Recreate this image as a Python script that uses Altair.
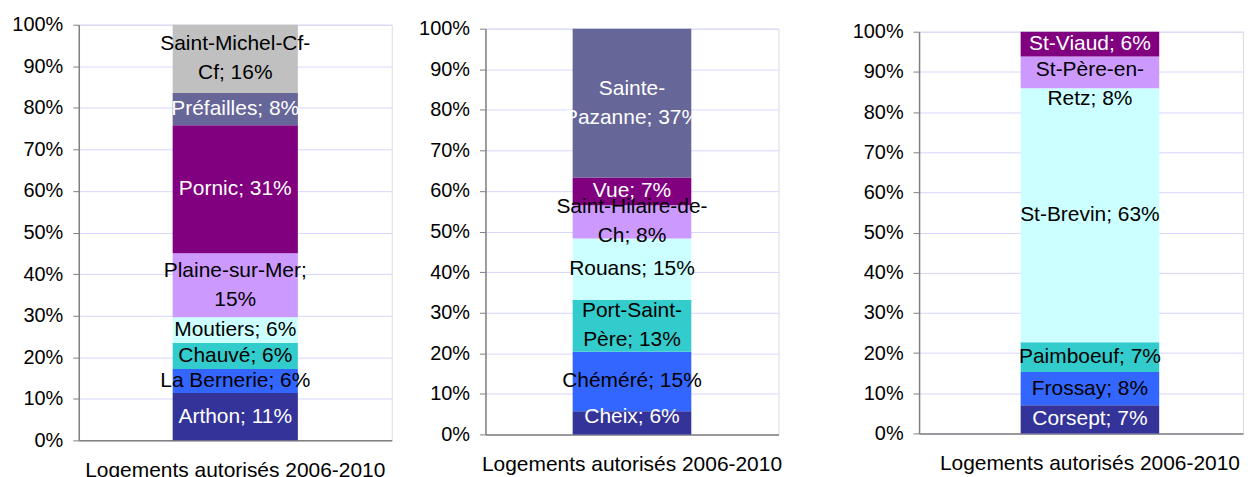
import altair as alt
import pandas as pd

# ---------------- data ----------------
cat = "Logements autorisés 2006-2010"

p1_names = ["Arthon", "La Bernerie", "Chauvé", "Moutiers", "Plaine-sur-Mer", "Pornic", "Préfailles", "Saint-Michel-Cf-\nCf"]
p1_values = [11.4, 5.8, 6.3, 6.1, 15.4, 30.8, 7.8, 16.4]
p1_pct = ["11%", "6%", "6%", "6%", "15%", "31%", "8%", "16%"]

p2_names = ["Cheix", "Chéméré", "Port-Saint-\nPère", "Rouans", "Saint-Hilaire-de-\nCh", "Vue", "Sainte-\nPazanne"]
p2_values = [5.7, 14.7, 12.8, 15.1, 8.2, 6.8, 36.7]
p2_pct = ["6%", "15%", "13%", "15%", "8%", "7%", "37%"]

p3_names = ["Corsept", "Frossay", "Paimboeuf", "St-Brevin", "St-Père-en-\nRetz", "St-Viaud"]
p3_values = [7.0, 8.3, 7.4, 63.2, 7.9, 6.2]
p3_pct = ["7%", "8%", "7%", "63%", "8%", "6%"]

y_ticks = [0, 10, 20, 30, 40, 50, 60, 70, 80, 90, 100]

# ---------------- style ----------------
palette = ["#333399", "#3366FF", "#33CCCC", "#CCFFFF", "#CC99FF", "#800080", "#666699", "#C0C0C0"]
text_palette = ["white", "black", "black", "black", "black", "white", "white", "black"]
wrap_after_name = {"Plaine-sur-Mer"}  # label breaks after the ';'
label_nudge = {"St-Père-en-\nRetz": 12, "Cheix": -6}  # px, like Excel's placement
FONT = "Liberation Sans"
FS_TICK = 20
FS = 21
LH = 29
GRID = "#D6D6FF"
AXIS = "#808080"


def make_table(names, values, pcts):
    rows = []
    base = 0.0
    for i, (n, v, p) in enumerate(zip(names, values, pcts)):
        sep = ";\n" if n in wrap_after_name else "; "
        label = n + sep + p
        nlines = label.count("\n") + 1
        rows.append({"cat": cat, "rank": i, "y0": base, "y1": base + v,
                     "mid": base + v / 2, "label": label,
                     "fill": palette[i], "tcol": text_palette[i],
                     "dy": label_nudge.get(n, 0) - (nlines - 1) * LH / 2})
        base += v
    return pd.DataFrame(rows)


def panel(names, values, pcts, width, height, pad_outer, align):
    df = make_table(names, values, pcts)
    xs = alt.X("cat:N", title=None,
               scale=alt.Scale(paddingInner=0, paddingOuter=pad_outer, align=align),
               axis=alt.Axis(labelAngle=0, labelFontSize=FS, labelColor="black", labelFont=FONT,
                             labelPadding=19, ticks=False, domainColor=AXIS, domainWidth=1.5,
                             labelLimit=0))
    ys = alt.Y("y0:Q", title=None,
               scale=alt.Scale(domain=[0, 100], nice=False, zero=True),
               axis=alt.Axis(values=y_ticks, labelExpr="datum.value + '%'",
                             labelFontSize=FS_TICK, labelColor="black", labelFont=FONT,
                             labelPadding=10, tickSize=6, tickColor=AXIS, domainColor=AXIS,
                             domainWidth=1.5, gridColor=GRID, gridWidth=1))
    base = alt.Chart(df)
    bars = base.mark_bar(stroke=None).encode(
        x=xs, y=ys, y2="y1:Q",
        color=alt.Color("fill:N", scale=None),
    )
    layers = [bars]
    for d in sorted(set(df["dy"])):
        layers.append(
            base.transform_filter(alt.datum.dy == d).mark_text(
                fontSize=FS, font=FONT, lineBreak="\n", lineHeight=LH,
                baseline="middle", align="center", dy=float(d)).encode(
                x=alt.X("cat:N"), y=alt.Y("mid:Q"),
                text="label:N",
                color=alt.Color("tcol:N", scale=None),
            )
        )
    return alt.layer(*layers).properties(width=width, height=height)


def spacer(width, height):
    return alt.Chart(pd.DataFrame({"v": [0]})).mark_point(opacity=0, size=0, strokeWidth=0).properties(width=width, height=height)


p1 = alt.vconcat(spacer(314, 1), panel(p1_names, p1_values, p1_pct, 314, 417, 0.75, 0.5), spacing=0)
p2 = alt.vconcat(spacer(294, 5), panel(p2_names, p2_values, p2_pct, 294, 407, 0.735, 0.5), spacing=0)
p3 = alt.vconcat(spacer(325, 8), panel(p3_names, p3_values, p3_pct, 325, 403, 0.669, 0.548), spacing=0)

chart = alt.hconcat(
    p1, spacer(25, 1), p2, spacer(69, 1), p3, spacing=0,
).properties(
    padding={"left": 3, "top": 4, "right": 0, "bottom": 0},
    background="white",
).configure_view(stroke=None).configure(font=FONT)

chart.save("out.html", embed_options={"renderer": "svg", "actions": False})
